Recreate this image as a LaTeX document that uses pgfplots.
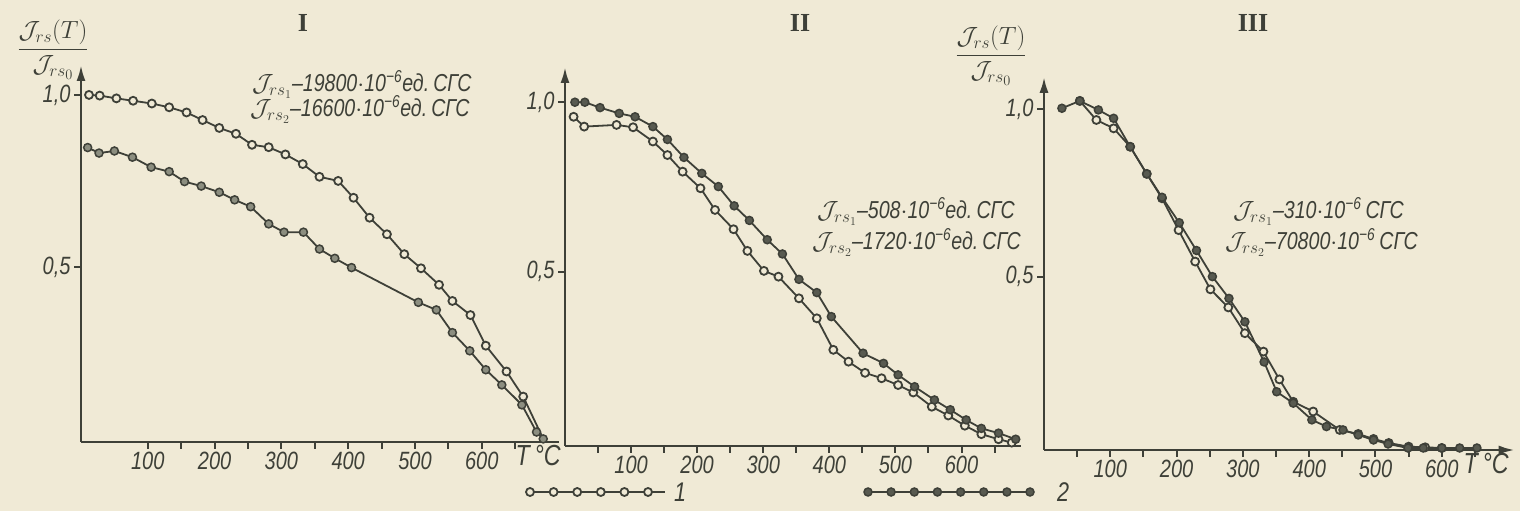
\documentclass[border=0pt]{standalone}
\usepackage{pgfplots}
\pgfplotsset{compat=1.18}
\usetikzlibrary{arrows.meta}
\usepackage{fontspec}
\setmainfont{Liberation Sans}
\newfontfamily\draft[FakeStretch=0.8, Ligatures=TeX]{Liberation Sans}
\newfontfamily\romfont{Liberation Serif}
\definecolor{paper}{RGB}{240,234,214}
\definecolor{ink}{RGB}{62,64,56}
\definecolor{inkfill}{RGB}{88,90,80}
\definecolor{greyfill}{RGB}{140,142,128}

\pgfplotsset{
  panel/.style={
    scale only axis, clip=false,
    axis lines=left,
    axis line style={line width=2.6pt, draw=ink},
    x axis line style={-},
    y axis line style={-{Latex[length=16pt,width=9pt]}},
    tick align=outside,
    major tick length=7pt,
    every tick/.style={line width=2pt, draw=ink},
    tick label style={font=\draft\itshape\fontsize{25}{25}\selectfont, text=ink},
    ytick={0.5,1.0},
    yticklabels={{0,5},{1,0}},
    anchor=south west,
  },
  s1/.style={line width=1.8pt, draw=ink, mark=*, mark size=4pt,
    mark options={fill=paper, draw=ink, line width=1.8pt}},
  s2/.style={line width=1.8pt, draw=ink, mark=*, mark size=4pt,
    mark options={fill=inkfill, draw=ink, line width=1.5pt}},
  s2g/.style={line width=1.8pt, draw=ink, mark=*, mark size=4pt,
    mark options={fill=greyfill, draw=ink, line width=1.5pt}},
}
\newcommand{\ann}{\draft\itshape\fontsize{24.5}{24.5}\selectfont\color{ink}}

\begin{document}
\begin{tikzpicture}
\path[use as bounding box, fill=paper] (0,0) rectangle (1520pt,511pt);

% ---------------- Panel I ----------------
\begin{axis}[panel, at={(81pt,69pt)}, width=477.6pt, height=377pt,
  xmin=0, xmax=715, ymin=-0.009, ymax=1.087,
  xtick={100,150,...,650}, xticklabels={100,,200,,300,,400,,500,,600,}]
\addplot[s1] table {
x y
12 1.000
28 0.998
53 0.990
78 0.983
106 0.975
132 0.964
158 0.949
182 0.927
207 0.904
232 0.887
256 0.855
281 0.848
306 0.827
332 0.799
357 0.762
385 0.750
408 0.701
432 0.643
458 0.595
484 0.537
509 0.496
536 0.448
556 0.401
583 0.360
606 0.271
637 0.196
662 0.123
};
\addplot[line width=1.8pt, draw=ink] table {
x y
662 0.123
692 0.0
};
\addplot[s2g] table {
x y
10 0.847
27 0.831
50 0.837
77 0.819
105 0.790
132 0.777
155 0.748
180 0.735
207 0.717
230 0.695
254 0.675
281 0.625
304 0.601
333 0.601
357 0.552
380 0.525
405 0.498
505 0.397
532 0.375
556 0.309
582 0.256
606 0.201
630 0.157
660 0.099
682 0.020
692 0.0
};
\end{axis}

% ---------------- Panel II ----------------
\begin{axis}[panel, at={(565pt,65pt)}, width=456pt, height=379pt,
  xmin=0, xmax=690, ymin=-0.015, ymax=1.104,
  xtick={50,100,...,650}, xticklabels={,100,,200,,300,,400,,500,,600,}]
\addplot[s1] table {
x y
13 0.957
29 0.928
78 0.933
103 0.926
133 0.884
155 0.844
178 0.795
205 0.746
227 0.682
255 0.625
276 0.561
301 0.502
323 0.485
354 0.421
381 0.362
406 0.269
429 0.234
454 0.201
479 0.185
504 0.165
527 0.143
555 0.101
580 0.075
605 0.045
630 0.020
656 0.005
676 -0.005
};
\addplot[s2] table {
x y
15 1.000
30 1.000
53 0.984
82 0.967
106 0.957
133 0.928
155 0.890
180 0.837
207 0.790
232 0.751
256 0.694
279 0.651
306 0.594
329 0.552
354 0.477
381 0.438
403 0.367
451 0.259
482 0.229
504 0.195
529 0.160
559 0.121
583 0.092
607 0.062
630 0.037
656 0.023
682 0.005
};
\end{axis}

% ---------------- Panel III ----------------
\begin{axis}[panel, at={(1044pt,61pt)}, width=470.7pt, height=373.2pt,
  xmin=0, xmax=710, ymin=-0.018, ymax=1.097,
  x axis line style={-{Latex[length=16pt,width=9pt]}},
  xtick={50,100,...,650}, xticklabels={,100,,200,,300,,400,,500,,600,}]
\addplot[s1] table {
x y
54 1.025
79 0.968
105 0.943
130 0.888
155 0.807
178 0.734
203 0.639
228 0.545
251 0.462
278 0.408
303 0.331
331 0.276
355 0.193
376 0.126
406 0.097
446 0.042
474 0.030
497 0.015
520 0.003
550 -0.008
575 -0.010
600 -0.012
};
\addplot[s2] table {
x y
27 1.003
54 1.025
82 0.998
105 0.973
130 0.888
155 0.807
178 0.737
204 0.661
230 0.578
254 0.500
279 0.435
303 0.365
332 0.245
351 0.156
376 0.122
404 0.072
426 0.052
451 0.042
474 0.027
497 0.012
519 0.000
549 -0.012
572 -0.012
600 -0.012
627 -0.012
653 -0.012
};
\end{axis}

% ---------------- Legend (drawn in a hidden pixel axis) ----------------
\begin{axis}[scale only axis, hide axis, clip=false, anchor=south west,
  at={(0pt,0pt)}, width=1520pt, height=511pt,
  xmin=0, xmax=1520, ymin=0, ymax=511]
\addplot[line width=1.8pt, draw=ink] table {
x y
530 19
665 19
};
\addplot[s1, only marks] table {
x y
530 19
553.6 19
577.2 19
600.8 19
624.4 19
648 19
};
\addplot[line width=1.8pt, draw=ink] table {
x y
868 19
1030 19
};
\addplot[s2, only marks] table {
x y
868 19
891.1 19
914.3 19
937.4 19
960.6 19
983.7 19
1006.9 19
1030 19
};
\end{axis}

\node[font=\draft\itshape\fontsize{27}{27}\selectfont, text=ink] at (680pt,19pt) {1};
\node[font=\draft\itshape\fontsize{27}{27}\selectfont, text=ink] at (1063pt,19pt) {2};

% titles
\node[font=\romfont\bfseries\fontsize{26}{26}\selectfont, text=ink] at (303pt,488pt) {I};
\node[font=\romfont\bfseries\fontsize{26}{26}\selectfont, text=ink] at (800pt,488pt) {II};
\node[font=\romfont\bfseries\fontsize{26}{26}\selectfont, text=ink] at (1253pt,488pt) {III};

% y labels
\node[font=\fontsize{27}{27}\selectfont, text=ink] at (53pt,461pt)
  {$\displaystyle\frac{\mathcal{J}_{rs}(T)}{\mathcal{J}_{rs_0}}$};
\node[font=\fontsize{27}{27}\selectfont, text=ink] at (991pt,455pt)
  {$\displaystyle\frac{\mathcal{J}_{rs}(T)}{\mathcal{J}_{rs_0}}$};

% T °C labels
\node[anchor=west, font=\draft\itshape\fontsize{29}{29}\selectfont, text=ink] at (512pt,55pt) {T\,°C};
\node[anchor=west, font=\draft\itshape\fontsize{29}{29}\selectfont, text=ink] at (1460pt,47pt) {T\,°C};

% annotations
\node[anchor=base west, inner sep=0pt] at (252pt,419pt)
  {\ann $\mathcal{J}_{rs_1}$–19800$\cdot$10\textsuperscript{−6}ед.\,СГС};
\node[anchor=base west, inner sep=0pt] at (250pt,394pt)
  {\ann $\mathcal{J}_{rs_2}$–16600$\cdot$10\textsuperscript{−6}ед.\,СГС};
\node[anchor=base west, inner sep=0pt] at (817pt,292pt)
  {\ann $\mathcal{J}_{rs_1}$–508$\cdot$10\textsuperscript{−6}ед.\,СГС};
\node[anchor=base west, inner sep=0pt] at (812pt,261pt)
  {\ann $\mathcal{J}_{rs_2}$–1720$\cdot$10\textsuperscript{−6}ед.\,СГС};
\node[anchor=base west, inner sep=0pt] at (1233pt,292pt)
  {\ann $\mathcal{J}_{rs_1}$–310$\cdot$10\textsuperscript{−6}\,СГС};
\node[anchor=base west, inner sep=0pt] at (1225pt,261pt)
  {\ann $\mathcal{J}_{rs_2}$–70800$\cdot$10\textsuperscript{−6}\,СГС};
\end{tikzpicture}
\end{document}
